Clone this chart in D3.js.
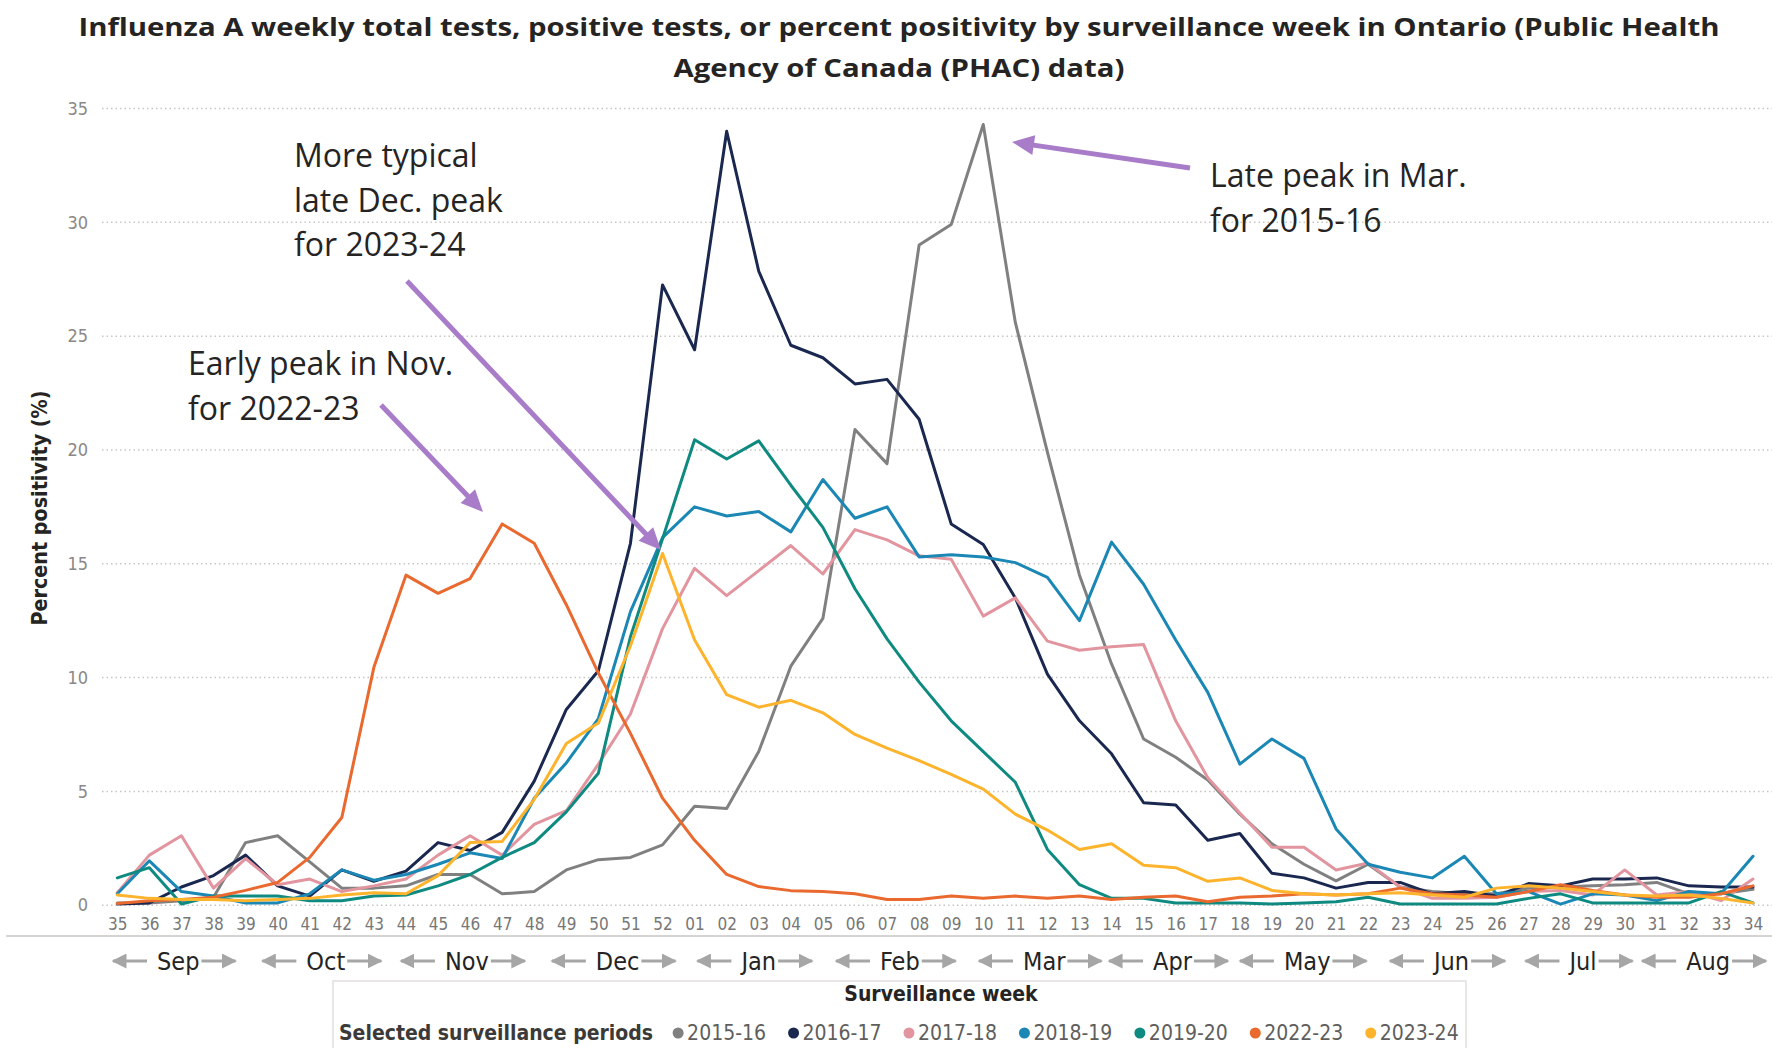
<!DOCTYPE html>
<html>
<head>
<meta charset="utf-8">
<script src="https://cdn.jsdelivr.net/npm/d3@7/dist/d3.min.js"></script>
<style>
    html, body { margin: 0; padding: 0; background: #ffffff; }
    svg { display: block; }
</style>
</head>
<body>
<div id="chart"></div>
<script>
"use strict";

// surveillance weeks, Sep -> Aug
var weeks = ["35", "36", "37", "38", "39", "40", "41", "42", "43", "44", "45", "46", "47", "48", "49", "50", "51", "52",
    "01", "02", "03", "04", "05", "06", "07", "08", "09", "10", "11", "12", "13", "14", "15", "16", "17", "18", "19",
    "20", "21", "22", "23", "24", "25", "26", "27", "28", "29", "30", "31", "32", "33", "34"];
var months = ["Sep", "Oct", "Nov", "Dec", "Jan", "Feb", "Mar", "Apr", "May", "Jun", "Jul", "Aug"];
// middle of each month, in week positions from week 35
var monthMid = [1.9, 6.5, 10.9, 15.6, 20.0, 24.4, 28.9, 32.9, 37.1, 41.6, 45.7, 49.6];
var yTicks = [0, 5, 10, 15, 20, 25, 30, 35];
var periods = ["2015-16", "2016-17", "2017-18", "2018-19", "2019-20", "2022-23", "2023-24"];
var colors = ["#808080", "#1a2850", "#e2959f", "#1b87b5", "#0f8a80", "#e9692f", "#fdb42c"];

// percent positivity per week, one array per season
var s2015 = [0.1, 0.1, 0.2, 0.35, 2.75, 3.05, 1.9, 0.75, 0.75, 0.85, 1.35, 1.35, 0.5, 0.6, 1.55, 2.0, 2.1, 2.65,
    4.35, 4.25, 6.75, 10.5, 12.6, 20.9, 19.4, 29.0, 29.9, 34.3, 25.6, 19.9, 14.5, 10.6, 7.3, 6.5, 5.5, 4.0, 2.7,
    1.8, 1.07, 1.8, 0.8, 0.6, 0.5, 0.5, 0.75, 0.8, 0.85, 0.9, 1.0, 0.5, 0.5, 0.7];
var s2016 = [0.05, 0.1, 0.8, 1.3, 2.2, 0.85, 0.4, 1.55, 1.05, 1.5, 2.75, 2.4, 3.2, 5.45, 8.6, 10.3, 15.9, 27.25,
    24.4, 34.0, 27.85, 24.6, 24.05, 22.9, 23.1, 21.35, 16.75, 15.85, 13.5, 10.15, 8.1, 6.65, 4.5, 4.4, 2.85, 3.15, 1.4,
    1.2, 0.75, 1.0, 1.0, 0.5, 0.6, 0.4, 0.95, 0.85, 1.15, 1.15, 1.2, 0.85, 0.8, 0.8];
var s2017 = [0.55, 2.2, 3.05, 0.75, 2.05, 0.9, 1.15, 0.6, 0.85, 1.15, 2.2, 3.05, 2.2, 3.55, 4.15, 6.2, 8.4, 12.15,
    14.8, 13.6, 14.7, 15.8, 14.55, 16.5, 16.05, 15.35, 15.2, 12.7, 13.5, 11.6, 11.2, 11.35, 11.45, 8.1, 5.6, 4.05, 2.55,
    2.55, 1.55, 1.85, 0.8, 0.3, 0.3, 0.35, 0.6, 0.65, 0.45, 1.55, 0.45, 0.6, 0.2, 1.15];
var s2018 = [0.5, 1.95, 0.6, 0.4, 0.1, 0.1, 0.5, 1.55, 1.1, 1.35, 1.8, 2.3, 2.05, 4.7, 6.25, 8.2, 12.9, 16.15,
    17.5, 17.1, 17.3, 16.4, 18.7, 17.0, 17.5, 15.3, 15.4, 15.3, 15.05, 14.4, 12.5, 15.95, 14.1, 11.65, 9.35, 6.2, 7.3,
    6.45, 3.35, 1.8, 1.45, 1.2, 2.15, 0.5, 0.6, 0.05, 0.5, 0.45, 0.2, 0.6, 0.5, 2.15];
var s2019 = [1.2, 1.65, 0.05, 0.4, 0.4, 0.4, 0.2, 0.2, 0.4, 0.45, 0.85, 1.35, 2.1, 2.75, 4.1, 5.8, 11.8, 16.1,
    20.45, 19.6, 20.4, 18.45, 16.6, 13.9, 11.7, 9.8, 8.1, 6.75, 5.4, 2.45, 0.9, 0.3, 0.3, 0.1, 0.1, 0.1, 0.05,
    0.1, 0.15, 0.35, 0.05, 0.05, 0.05, 0.05, 0.3, 0.5, 0.1, 0.1, 0.1, 0.1, 0.6, 0.1];
var s2022 = [0.07, 0.2, 0.25, 0.35, 0.65, 1.0, 2.1, 3.85, 10.45, 14.5, 13.7, 14.35, 16.75, 15.9, 13.2, 10.2, 7.55, 4.7,
    2.85, 1.35, 0.82, 0.64, 0.6, 0.5, 0.25, 0.25, 0.4, 0.3, 0.4, 0.3, 0.4, 0.25, 0.35, 0.4, 0.15, 0.35, 0.4,
    0.5, 0.45, 0.5, 0.75, 0.5, 0.45, 0.35, 0.6, 0.9, 0.65, 0.45, 0.35, 0.35, 0.5, 0.85];
var s2023 = [0.45, 0.3, 0.25, 0.25, 0.2, 0.25, 0.3, 0.45, 0.55, 0.5, 1.3, 2.75, 2.8, 4.65, 7.1, 8.0, 11.4, 15.45,
    11.65, 9.25, 8.7, 9.0, 8.45, 7.5, 6.9, 6.35, 5.75, 5.1, 4.0, 3.3, 2.45, 2.7, 1.75, 1.65, 1.05, 1.2, 0.65,
    0.5, 0.45, 0.5, 0.55, 0.45, 0.35, 0.75, 0.85, 0.75, 0.6, 0.45, 0.4, 0.45, 0.3, 0.1];
var seriesValues = [s2015, s2016, s2017, s2018, s2019, s2022, s2023];

var titleLines = ["Influenza A weekly total tests, positive tests, or percent positivity by surveillance week in Ontario (Public Health",
    "Agency of Canada (PHAC) data)"];

// callouts: text lines, text anchor, arrow from -> tip (pixels)
var notes = [
    { lines: ["More typical", "late Dec. peak", "for 2023-24"], x: 294, y: 156, from: [407, 281], to: [661, 550] },
    { lines: ["Early peak in Nov.", "for 2022-23"], x: 188, y: 364, from: [381, 405], to: [483, 512] },
    { lines: ["Late peak in Mar.", "for 2015-16"], x: 1210, y: 176, from: [1190, 168], to: [1012, 142] }
];

var W = 1772, H = 1048;
var narrow = "'Liberation Sans Narrow', 'DejaVu Sans Condensed', 'Open Sans', sans-serif";
var sans = "'Open Sans', 'Noto Sans', sans-serif";

var svg = d3.select("#chart").append("svg").attr("width", W).attr("height", H)
    .style("background", "#ffffff");

var x = d3.scalePoint().domain(weeks).range([117.3, 1753]);
var xi = d3.scaleLinear().domain([0, weeks.length - 1]).range(x.range());
var y = d3.scaleLinear().domain([0, 35]).range([905.2, 108.5]);

// title
var title = svg.append("g").attr("class", "title")
    .attr("font-family", sans).attr("font-weight", 700).attr("font-size", 25).attr("fill", "#252423");
var t1 = title.append("text").attr("x", 899).attr("y", 36).attr("text-anchor", "middle").text(titleLines[0]);
var t2 = title.append("text").attr("x", 899).attr("y", 77).attr("text-anchor", "middle").text(titleLines[1]);
var squeeze = 1641 / t1.node().getComputedTextLength();
t1.attr("textLength", 1641).attr("lengthAdjust", "spacingAndGlyphs");
t2.attr("textLength", t2.node().getComputedTextLength() * squeeze).attr("lengthAdjust", "spacingAndGlyphs");

// grid
svg.append("g").selectAll("line").data(yTicks).join("line")
    .attr("x1", 102).attr("x2", W)
    .attr("y1", function (d) { return y(d); }).attr("y2", function (d) { return y(d); })
    .attr("stroke", "#c8c6c4").attr("stroke-width", 1.5).attr("stroke-dasharray", "1.5,3");

// y axis
var yAxis = svg.append("g").attr("transform", "translate(89,0)")
    .call(d3.axisLeft(y).tickValues(yTicks).tickSize(0).tickPadding(1));
yAxis.select(".domain").remove();
yAxis.selectAll("text").attr("font-family", narrow).attr("font-size", 18).attr("fill", "#8a8886");

var yl = svg.append("text").attr("transform", "translate(47,508) rotate(-90)")
    .attr("text-anchor", "middle").attr("font-family", narrow).attr("font-weight", 700)
    .attr("font-size", 21).attr("fill", "#252423").text("Percent positivity (%)");
yl.attr("textLength", 235).attr("lengthAdjust", "spacingAndGlyphs");

// x axis
var xAxis = svg.append("g").attr("transform", "translate(0,905)")
    .call(d3.axisBottom(x).tickSize(0).tickPadding(13));
xAxis.select(".domain").remove();
xAxis.selectAll("text").attr("font-family", narrow).attr("font-size", 17).attr("fill", "#777777");

svg.append("line").attr("x1", 6).attr("x2", W).attr("y1", 936).attr("y2", 936)
    .attr("stroke", "#c8c6c4").attr("stroke-width", 1.5);

// month strip with grey arrows
var defs = svg.append("defs");
defs.append("marker").attr("id", "gh").attr("viewBox", "0 0 10 10").attr("refX", 9).attr("refY", 5)
    .attr("markerWidth", 15).attr("markerHeight", 15).attr("markerUnits", "userSpaceOnUse").attr("orient", "auto")
    .append("path").attr("d", "M0,0 L10,5 L0,10 z").attr("fill", "#a6a6a6");

var mg = svg.append("g");
months.forEach(function (m, k) {
    var c = xi(monthMid[k]);
    var mt = mg.append("text").attr("x", c).attr("y", 970).attr("text-anchor", "middle")
        .attr("font-family", narrow).attr("font-size", 25).attr("fill", "#252423").text(m);
    var hw = mt.node().getComputedTextLength() / 2;
    mg.append("line").attr("x1", c - hw - 10).attr("x2", c - hw - 44).attr("y1", 961).attr("y2", 961)
        .attr("stroke", "#a6a6a6").attr("stroke-width", 3).attr("marker-end", "url(#gh)");
    mg.append("line").attr("x1", c + hw + 2).attr("x2", c + hw + 36).attr("y1", 961).attr("y2", 961)
        .attr("stroke", "#a6a6a6").attr("stroke-width", 3).attr("marker-end", "url(#gh)");
});

// lines
var line = d3.line()
    .x(function (d, i) { return x(weeks[i]); })
    .y(function (d) { return y(d); });

svg.append("g").selectAll("path").data(seriesValues).join("path")
    .attr("d", line).attr("fill", "none")
    .attr("stroke", function (d, i) { return colors[i]; })
    .attr("stroke-width", 3).attr("stroke-linejoin", "round").attr("stroke-linecap", "round");

// callouts
var ng = svg.append("g");
notes.forEach(function (n) {
    var t = ng.append("text").attr("font-family", sans).attr("font-size", 32).attr("fill", "#252423");
    n.lines.forEach(function (s, k) {
        t.append("tspan").attr("x", n.x).attr("y", n.y + 11 + k * 44.5).text(s);
    });
    var dx = n.to[0] - n.from[0], dy = n.to[1] - n.from[1];
    var len = Math.sqrt(dx * dx + dy * dy), ux = dx / len, uy = dy / len;
    var bx = n.to[0] - ux * 22, by = n.to[1] - uy * 22;
    ng.append("line").attr("x1", n.from[0]).attr("y1", n.from[1]).attr("x2", bx + ux * 2).attr("y2", by + uy * 2)
        .attr("stroke", "#a87cc9").attr("stroke-width", 5);
    ng.append("path")
        .attr("d", "M" + n.to[0] + "," + n.to[1] + " L" + (bx - uy * 10) + "," + (by + ux * 10) +
            " L" + (bx + uy * 10) + "," + (by - ux * 10) + " Z")
        .attr("fill", "#a87cc9");
});

// legend panel
svg.append("rect").attr("x", 333).attr("y", 981).attr("width", 1133).attr("height", 80)
    .attr("fill", "#ffffff").attr("stroke", "#e1dfdd").attr("stroke-width", 1.5);
svg.append("text").attr("x", 941).attr("y", 1001).attr("text-anchor", "middle")
    .attr("font-family", narrow).attr("font-weight", 700).attr("font-size", 21).attr("fill", "#252423")
    .text("Surveillance week");

var lg = svg.append("g").attr("font-family", narrow).attr("font-size", 21);
var lt = lg.append("text").attr("x", 339).attr("y", 1040).attr("font-weight", 700).attr("fill", "#3b3a39")
    .text("Selected surveillance periods");
var cx = 339 + lt.node().getComputedTextLength() + 25;
periods.forEach(function (p, i) {
    lg.append("circle").attr("cx", cx).attr("cy", 1033).attr("r", 5.5).attr("fill", colors[i]);
    var tt = lg.append("text").attr("x", cx + 9).attr("y", 1040).attr("fill", "#605e5c").text(p);
    cx += 9 + tt.node().getComputedTextLength() + 27.5;
});
</script>
</body>
</html>
